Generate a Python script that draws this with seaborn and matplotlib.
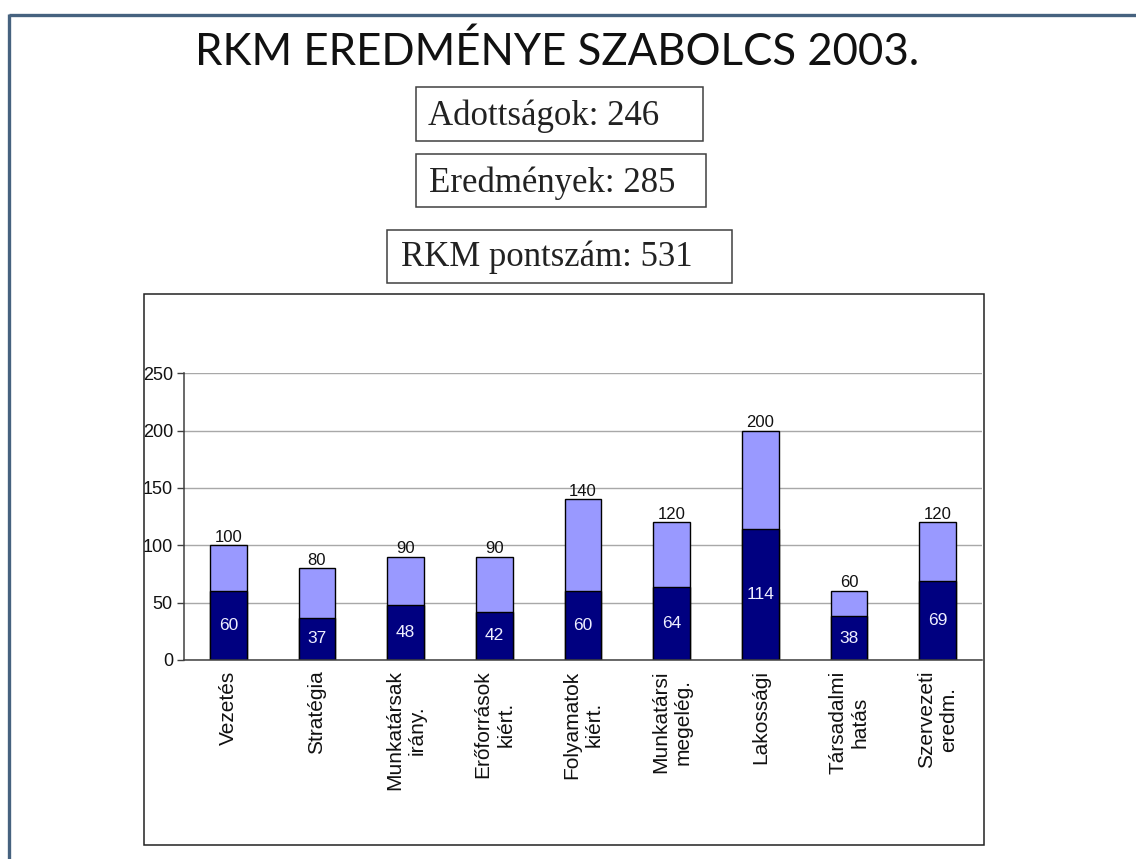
import matplotlib
matplotlib.use("Agg")
import matplotlib.pyplot as plt
from matplotlib.patches import Rectangle
from matplotlib.lines import Line2D
from matplotlib.ticker import FixedLocator
import seaborn as sns
import pandas as pd

# ---- data -------------------------------------------------------------
categories = [
    "Vezetés", "Stratégia", "Munkatársak\nirány.", "Erőforrások\nkiért.",
    "Folyamatok\nkiért.", "Munkatársi\nmegelég.", "Lakossági",
    "Társadalmi\nhatás", "Szervezeti\neredm.",
]
max_points = [100, 80, 90, 90, 140, 120, 200, 60, 120]
achieved = [60, 37, 48, 42, 60, 64, 114, 38, 69]
y_ticks = [0, 50, 100, 150, 200, 250]

title = "RKM EREDMÉNYE SZABOLCS 2003."
summary_labels = ["Adottságok: 246", "Eredmények: 285", "RKM pontszám: 531"]

# ---- styling ----------------------------------------------------------
sns.set_style("white")
plt.rcParams["font.family"] = ["Liberation Sans", "DejaVu Sans"]

LIGHT = "#9999FF"
DARK = "#000080"
AXIS_COL = "#404040"

W, H = 1136, 859
fig = plt.figure(figsize=(W / 100, H / 100), dpi=100)
fig.patch.set_facecolor("white")


def fx(px):
    return px / W


def fy(py):
    return 1 - py / H


# slide border (top and left edges)
fig.add_artist(Line2D([fx(9), 1.0], [fy(15), fy(15)], transform=fig.transFigure,
                      color="#46627f", lw=2.4, solid_capstyle="butt"))
fig.add_artist(Line2D([fx(9), fx(9)], [fy(14), 0.0], transform=fig.transFigure,
                      color="#46627f", lw=2.4, solid_capstyle="butt"))

# headline
fig.text(fx(557), fy(65), title, ha="center", va="baseline",
         family=["Lato", "DejaVu Sans"], fontsize=31.5, color="#111111")

# summary boxes
boxes = [(416, 87, 703, 141), (416, 154, 706, 207), (387, 230, 732, 283)]
text_pos = [(428, 125), (429, 191.5), (401, 266.5)]
for (x0, y0, x1, y1), (tx, ty), label in zip(boxes, text_pos, summary_labels):
    fig.add_artist(Rectangle((fx(x0), fy(y1)), fx(x1) - fx(x0), fy(y0) - fy(y1),
                             transform=fig.transFigure, fill=False,
                             edgecolor=AXIS_COL, lw=1.1))
    fig.text(fx(tx), fy(ty), label, ha="left", va="baseline",
             family=["Liberation Serif", "DejaVu Serif"], fontsize=25,
             color="#222222")

# chart frame
fig.add_artist(Rectangle((fx(144), fy(845)), fx(984) - fx(144), fy(294) - fy(845),
                         transform=fig.transFigure, fill=False,
                         edgecolor="#222222", lw=1.1))

# ---- bar chart --------------------------------------------------------
ax = fig.add_axes([fx(184), fy(660), fx(982) - fx(184), (660 - 373.3) / H])

df = pd.DataFrame({"kategoria": categories, "max": max_points, "elert": achieved})
sns.barplot(data=df, x="kategoria", y="max", color=LIGHT, saturation=1,
            edgecolor="black", linewidth=1, width=0.41, ax=ax)
sns.barplot(data=df, x="kategoria", y="elert", color=DARK, saturation=1,
            edgecolor="black", linewidth=1, width=0.41, ax=ax)

ax.bar_label(ax.containers[0], padding=0.5, fontsize=12, color="#111111")
ax.bar_label(ax.containers[1], label_type="center", fontsize=12.5, color="#eeeeff")

ax.set_xlim(-0.5, len(categories) - 0.5)
ax.set_ylim(0, 250)
ax.set_yticks(y_ticks)
ax.set_xlabel("")
ax.set_ylabel("")

ax.yaxis.grid(True, color="#a8a8a8", lw=1)
ax.set_axisbelow(True)
for side in ("top", "right"):
    ax.spines[side].set_visible(False)
for side in ("left", "bottom"):
    ax.spines[side].set_color(AXIS_COL)
    ax.spines[side].set_linewidth(1.1)

ax.set_xticks(range(len(categories)))
ax.set_xticklabels(categories)
ax.xaxis.set_minor_locator(FixedLocator([i - 0.5 for i in range(len(categories) + 1)]))
ax.tick_params(axis="x", which="major", length=0, pad=7.5, labelsize=15)
ax.tick_params(axis="x", which="minor", length=5, width=1, direction="out",
               color=AXIS_COL)
ax.tick_params(axis="y", length=5, width=1, direction="out", pad=3,
               labelsize=13, color=AXIS_COL, left=True)
plt.setp(ax.get_xticklabels(), rotation=90, va="top", ha="center",
         multialignment="center", linespacing=1.25, color="#111111")
plt.setp(ax.get_yticklabels(), color="#111111")

fig.savefig("out.png", dpi=100)
